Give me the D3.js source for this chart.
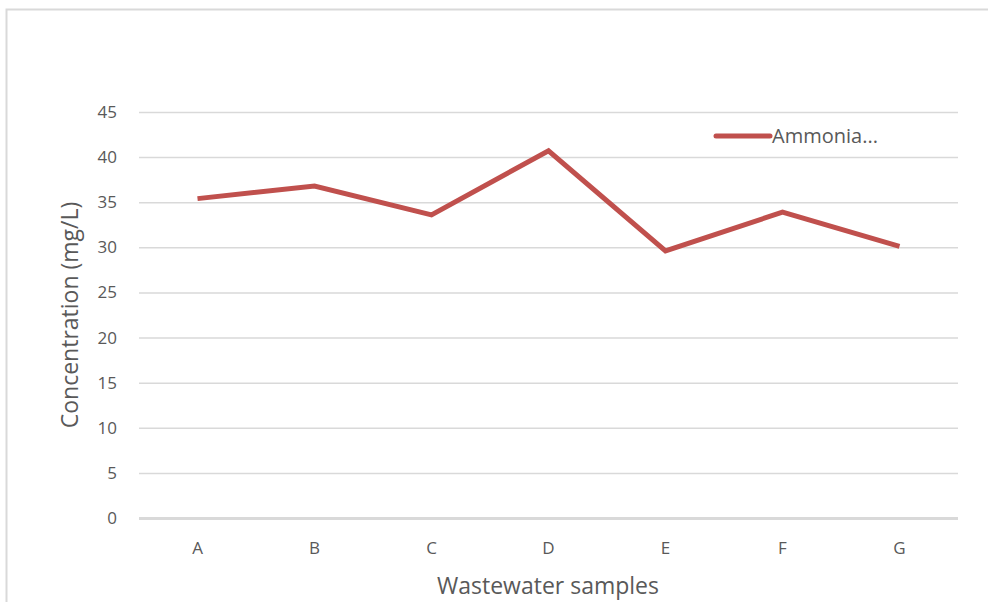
<!DOCTYPE html>
<html>
<head>
<meta charset="utf-8">
<script src="https://cdn.jsdelivr.net/npm/d3@7"></script>
<style>
  html, body { margin: 0; padding: 0; background: #fff; }
  svg { display: block; }
  text { font-family: "Open Sans", "Liberation Sans", sans-serif; }
</style>
</head>
<body>
<svg id="chart" width="988" height="602"></svg>
<script>
// Ammonia concentration per wastewater sample
const samples = ["A", "B", "C", "D", "E", "F", "G"];
const ammonia = [35.4, 36.8, 33.6, 40.7, 29.6, 33.9, 30.1];
const yTicks = [0, 5, 10, 15, 20, 25, 30, 35, 40, 45];
const seriesName = "Ammonia...";
const xTitle = "Wastewater samples";
const yTitle = "Concentration (mg/L)";

const svg = d3.select("#chart");
const W = 988, H = 602;
const plot = { left: 139, right: 958, top: 112, bottom: 518 };
const lineColor = "#c0504d";
const textColor = "#595959";

// outer chart frame
svg.append("rect")
  .attr("x", 6.5).attr("y", 9.5)
  .attr("width", W + 10).attr("height", H + 10)
  .attr("fill", "#fff").attr("stroke", "#d9d9d9").attr("stroke-width", 2);

const x = d3.scaleBand().domain(samples).range([plot.left, plot.right]);
const y = d3.scaleLinear().domain([0, 45]).range([plot.bottom, plot.top]);

// horizontal gridlines with value labels
const yAxis = d3.axisLeft(y).tickValues(yTicks).tickSize(-(plot.right - plot.left)).tickPadding(22);
const gy = svg.append("g").attr("transform", `translate(${plot.left},0)`).call(yAxis);
gy.select(".domain").remove();
gy.selectAll(".tick line")
  .attr("stroke", "#d9d9d9")
  .attr("stroke-width", d => d === 0 ? 3 : 1.5);
gy.selectAll(".tick text")
  .attr("fill", textColor).attr("font-size", 17);

// category labels
const xAxis = d3.axisBottom(x).tickSize(0).tickPadding(24);
const gx = svg.append("g").attr("transform", `translate(0,${plot.bottom})`).call(xAxis);
gx.select(".domain").remove();
gx.selectAll(".tick text")
  .attr("fill", textColor).attr("font-size", 17);

// data line
const line = d3.line()
  .x((d, i) => x(samples[i]) + x.bandwidth() / 2)
  .y(d => y(d));
svg.append("path")
  .datum(ammonia)
  .attr("d", line)
  .attr("fill", "none")
  .attr("stroke", lineColor)
  .attr("stroke-width", 5)
  .attr("stroke-linejoin", "miter");

// legend
const lg = svg.append("g").attr("transform", "translate(714,136)");
lg.append("line").attr("x1", 2).attr("x2", 56).attr("y1", 0).attr("y2", 0)
  .attr("stroke", lineColor).attr("stroke-width", 5).attr("stroke-linecap", "round");
lg.append("text").attr("x", 58).attr("y", 0).attr("dy", "0.35em")
  .attr("fill", textColor).attr("font-size", 20).text(seriesName);

// axis titles
svg.append("text")
  .attr("x", 548).attr("y", 586).attr("dy", "0.35em")
  .attr("text-anchor", "middle")
  .attr("fill", textColor).attr("font-size", 23)
  .text(xTitle);

svg.append("text")
  .attr("transform", "translate(70,315) rotate(-90)")
  .attr("dy", "0.35em")
  .attr("text-anchor", "middle")
  .attr("fill", textColor).attr("font-size", 23)
  .text(yTitle);
</script>
</body>
</html>
